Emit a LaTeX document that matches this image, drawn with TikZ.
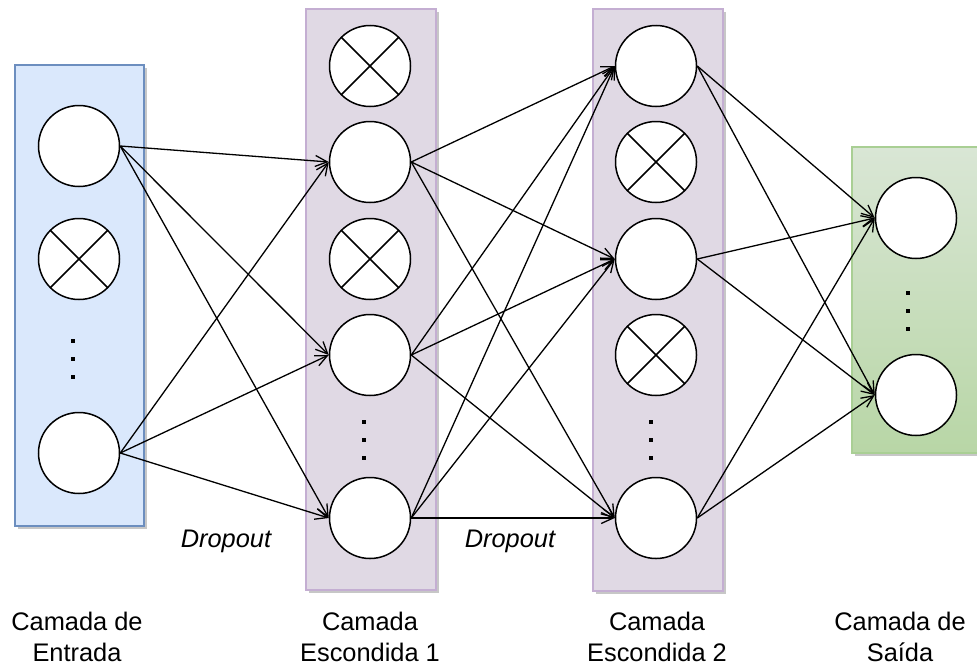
\documentclass[tikz,border=0pt]{standalone}
\usepackage{fontspec}
\setmainfont{Liberation Sans}
\usetikzlibrary{arrows.meta,shadows}

\definecolor{entradafill}{HTML}{DAE8FC}
\definecolor{entradaline}{HTML}{6C8EBF}
\definecolor{ocultafill}{HTML}{E0D9E4}
\definecolor{ocultaline}{HTML}{C4AED2}
\definecolor{saidatop}{HTML}{D9E6D5}
\definecolor{saidabottom}{HTML}{B8D6A6}
\definecolor{saidaline}{HTML}{A9CF94}

\begin{document}
\begin{tikzpicture}[x=0.5pt,y=-0.5pt,
    camada/.style={draw, line width=0.6pt,
      drop shadow={shadow xshift=1.6pt, shadow yshift=-1.6pt, fill=black!22, opacity=1}},
    neuronio/.style={circle, draw, fill=white, line width=0.75pt, minimum size=40.5pt, inner sep=0pt},
    anulado/.style={neuronio, path picture={
        \draw[line width=0.75pt] (path picture bounding box.north west) -- (path picture bounding box.south east)
          (path picture bounding box.north east) -- (path picture bounding box.south west);}},
    ponto/.style={fill=black, inner sep=0pt, minimum size=1.7pt},
    ligacao/.style={line width=0.65pt, -{Straight Barb[length=6pt,width=5.5pt]}},
    rotulo/.style={align=center, font=\fontsize{12.7}{15.5}\selectfont},
    dropout/.style={font=\fontsize{12.7}{15.5}\selectfont\itshape}]
  \useasboundingbox (0,0) rectangle (977,664);

  % camadas
  \draw[camada, fill=entradafill, draw=entradaline] (15,65) rectangle (144,526);
  \draw[camada, fill=ocultafill, draw=ocultaline] (306,9) rectangle (436,590);
  \draw[camada, fill=ocultafill, draw=ocultaline] (593,9) rectangle (723,591);
  \draw[camada, top color=saidatop, bottom color=saidabottom, draw=saidaline] (852,147) rectangle (990,453);

  % camada de entrada
  \node[neuronio] (e1) at (79,146) {};
  \node[anulado] (e2) at (79,259) {};
  \node[ponto] (ep1) at (73,341) {};
  \node[ponto] (ep2) at (73,359) {};
  \node[ponto] (ep3) at (73,377) {};
  \node[neuronio] (e3) at (79,453) {};

  % camada escondida 1
  \node[anulado] (a1) at (370,66) {};
  \node[neuronio] (a2) at (370,162) {};
  \node[anulado] (a3) at (370,259) {};
  \node[neuronio] (a4) at (370,355) {};
  \node[ponto] (ap1) at (364,422) {};
  \node[ponto] (ap2) at (364,440) {};
  \node[ponto] (ap3) at (364,458) {};
  \node[neuronio] (a5) at (370,518) {};

  % camada escondida 2
  \node[neuronio] (b1) at (656,66) {};
  \node[anulado] (b2) at (656,162) {};
  \node[neuronio] (b3) at (656,259) {};
  \node[anulado] (b4) at (656,355) {};
  \node[ponto] (bp1) at (651,422) {};
  \node[ponto] (bp2) at (651,440) {};
  \node[ponto] (bp3) at (651,458) {};
  \node[neuronio] (b5) at (656,518) {};

  % camada de saida
  \node[neuronio] (s1) at (916,218) {};
  \node[ponto] (sp1) at (908,293) {};
  \node[ponto] (sp2) at (908,311) {};
  \node[ponto] (sp3) at (908,329) {};
  \node[neuronio] (s2) at (916,395) {};

  % ligacoes
  \foreach \i in {e1,e3}
    \foreach \j in {a2,a4,a5}
      \draw[ligacao] (\i.east) -- (\j.west);
  \foreach \i in {a2,a4,a5}
    \foreach \j in {b1,b3,b5}
      \draw[ligacao] (\i.east) -- (\j.west);
  \foreach \i in {b1,b3,b5}
    \foreach \j in {s1,s2}
      \draw[ligacao] (\i.east) -- (\j.west);

  % textos
  \node[dropout] (d1) at (226,541) {Dropout};
  \node[dropout] (d2) at (510,541) {Dropout};
  \node[rotulo] (le) at (77,637) {Camada de\\Entrada};
  \node[rotulo] (l1) at (370,637) {Camada\\Escondida 1};
  \node[rotulo] (l2) at (657,637) {Camada\\Escondida 2};
  \node[rotulo] (ls) at (900,637) {Camada de\\Saída};
\end{tikzpicture}
\end{document}
